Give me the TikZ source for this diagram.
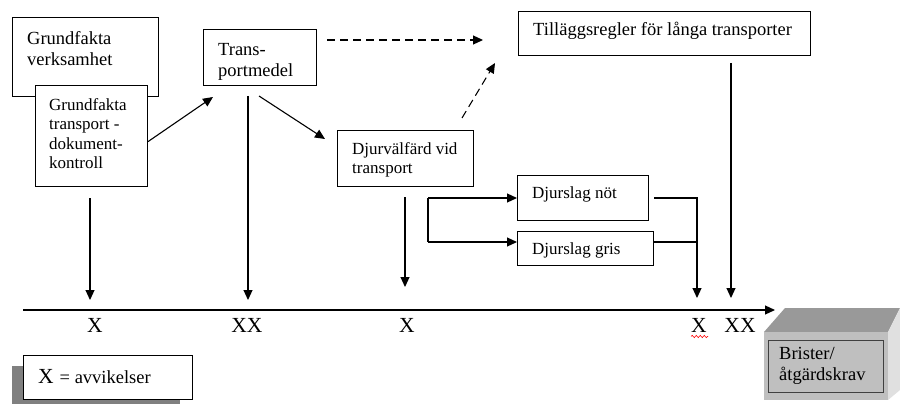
\documentclass[tikz,border=0pt]{standalone}
\usepackage{fontspec}
\setmainfont{Liberation Serif}
\usetikzlibrary{arrows.meta,decorations.pathmorphing}
\begin{document}
\begin{tikzpicture}[x=1pt,y=-1pt,
  box/.style={draw=black, line width=1.1pt, fill=white, rectangle, inner sep=0pt, anchor=north west},
  lbl/.style={align=left, inner sep=0pt},
  big/.style={font=\fontsize{18.5}{21.5}\selectfont},
  med/.style={font=\fontsize{17}{19.5}\selectfont},
  axl/.style={inner sep=0pt, anchor=base, font=\fontsize{21.5}{24}\selectfont},
  conn/.style={line width=1.1pt, -{Triangle[length=10pt,width=9pt]}},
  dconn/.style={conn, dash pattern=on 8pt off 5pt},
  plain/.style={line width=1.1pt},
]
\useasboundingbox (0,0) rectangle (900,404);

% boxes
\node[box, minimum width=146pt, minimum height=79pt] (gv) at (12,17) {};
\node[box, minimum width=112pt, minimum height=101pt] (gt) at (35,85) {};
\node[box, minimum width=113pt, minimum height=56pt] (tm) at (203,29) {};
\node[box, minimum width=292pt, minimum height=44pt] (tl) at (518,11) {};
\node[box, minimum width=136pt, minimum height=56pt] (dv) at (337,130) {};
\node[box, minimum width=131pt, minimum height=45pt] (dn) at (517,175) {};
\node[box, minimum width=136pt, minimum height=34pt] (dg) at (517,231) {};

% texts
\node[lbl, big, anchor=north west] (gvt) at (27,31) {Grundfakta\\verksamhet};
\node[lbl, med, anchor=north west] (gtt) at (49,98) {Grundfakta\\transport -\\dokument-\\kontroll};
\node[lbl, big, anchor=north west] (tmt) at (218,43) {Trans-\\portmedel};
\node[lbl, big, anchor=base west] (tlt) at (533,36) {Tilläggsregler för långa transporter};
\node[lbl, med, anchor=north west] (dvt) at (352,142) {Djurvälfärd vid\\transport};
\node[lbl, med, anchor=base west] (dnt) at (532,198) {Djurslag nöt};
\node[lbl, med, anchor=base west] (dgt) at (532,254) {Djurslag gris};

% legend
\fill[fill=black!50] (12,366) rectangle (180,404);
\node[box, minimum width=169pt, minimum height=44pt] (lg) at (23,355) {};
\node[lbl, anchor=base west] (lgt) at (38,383) {{\fontsize{21.5}{24}\selectfont X}\hspace{6pt}{\fontsize{18.5}{21}\selectfont = avvikelser}};

% 3D box
\fill[black!40] (764,332) -- (785,308) -- (900,308) -- (888,332) -- cycle;
\fill[black!12] (888,332) -- (900,308) -- (900,390) -- (888,400) -- cycle;
\fill[black!25] (764,332) rectangle (888,400);
\node[box, fill=black!25, draw=black!75, line width=0.9pt, minimum width=115pt, minimum height=52pt] (bk) at (768,340) {};
\node[lbl, big, anchor=north west] (bkt) at (779,347) {Brister/\\åtgärdskrav};

% coordinates
\coordinate (axS) at (23,310);
\coordinate (axE) at (775,310);
\coordinate (tmIn) at (213,97);
\coordinate (tmOut1) at (259,96);
\coordinate (dvIn) at (325,139);
\coordinate (tmOut2) at (248,96);
\coordinate (tmTip) at (248,300);
\coordinate (gtOut) at (90,198);
\coordinate (gtTip) at (90,300);
\coordinate (dvOut) at (405,197);
\coordinate (dvTip) at (405,287);
\coordinate (tlOut) at (731,63);
\coordinate (tlTip) at (731,298);
\coordinate (tmDash) at (327,40);
\coordinate (tlIn1) at (483,40);
\coordinate (dvDash) at (462,118);
\coordinate (tlIn2) at (495,63);
\coordinate (brk1) at (428,198);
\coordinate (brk2) at (428,242);
\coordinate (jn) at (697,198);
\coordinate (jg) at (697,242);
\coordinate (jTip) at (697,298);

% connectors
\draw[conn] (axS) -- (axE);
\draw[conn] ([yshift=-5.5pt]gt.east) -- (tmIn);
\draw[conn] (tmOut1) -- (dvIn);
\draw[conn] (tmOut2) -- (tmTip);
\draw[conn] (gtOut) -- (gtTip);
\draw[conn] (dvOut) -- (dvTip);
\draw[conn] (tlOut) -- (tlTip);
\draw[dconn] (tmDash) -- (tlIn1);
\draw[dconn] (dvDash) -- (tlIn2);
\draw[plain] (brk1) -- (brk2);
\draw[conn] (brk1) -- (brk1 -| dn.west);
\draw[conn] (brk2) -- (brk2 -| dg.west);
\draw[conn] ([xshift=5pt]dn.east |- jn) -- (jn) -- (jTip);
\draw[plain] (jg -| dg.east) -- (jg);

% axis labels
\node[axl] (x1) at (95,332) {X};
\node[axl] (x2) at (247,332) {XX};
\node[axl] (x3) at (407,332) {X};
\node[axl] (x4) at (699,332) {X};
\node[axl] (x5) at (740,332) {XX};
\draw[red, line width=0.6pt, decorate, decoration={snake, amplitude=1.1pt, segment length=4pt}] (691,336.5) -- (708,336.5);
\end{tikzpicture}
\end{document}
